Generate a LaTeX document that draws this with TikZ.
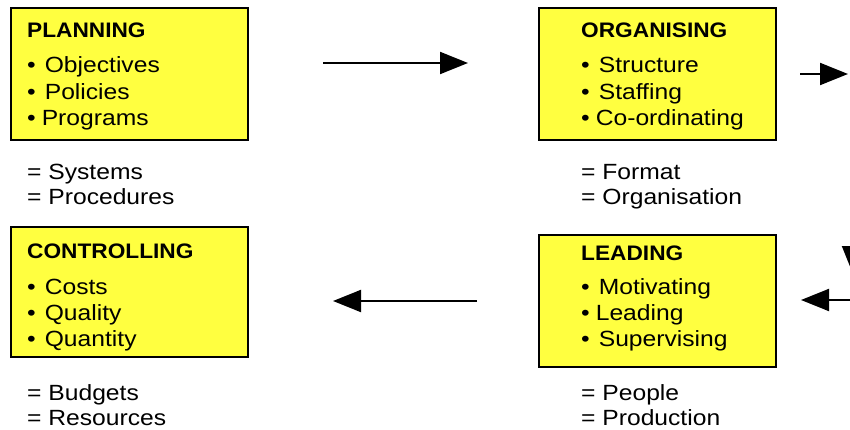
\documentclass[tikz,border=0pt]{standalone}
\usepackage{fontspec}
\setmainfont{Liberation Sans}[FakeStretch=1.12]
\newfontfamily\titlefont{Liberation Sans}[FakeStretch=1.08]
\usetikzlibrary{arrows.meta}
\definecolor{boxyellow}{RGB}{255,255,64}
\newcommand{\blt}{•\hspace{9pt}}
\tikzset{
  stage/.style={draw=black, line width=1.6pt, fill=boxyellow, anchor=north west, inner sep=0pt},
  title/.style={anchor=base west, inner sep=0pt, font=\fontsize{21}{25}\titlefont\bfseries},
  item/.style={anchor=base west, inner sep=0pt, font=\fontsize{22}{26}\selectfont},
  flow/.style={line width=2pt, -{Triangle[length=28pt,width=22pt]}}
}
\begin{document}
\begin{tikzpicture}[x=1pt,y=-1pt]
\useasboundingbox (0,0) rectangle (850,430);
\clip (0,0) rectangle (850,430);

% the four stage boxes
\node[stage, minimum width=237pt, minimum height=132pt] (plan) at (10,7) {};
\node[stage, minimum width=237pt, minimum height=132pt] (org) at (538,7) {};
\node[stage, minimum width=237pt, minimum height=130pt] (ctrl) at (10,226) {};
\node[stage, minimum width=237pt, minimum height=132pt] (lead) at (538,234) {};

% planning
\node[title] (planT) at (27,38) {PLANNING};
\node[item] (plan1) at (27,73) {\blt Objectives};
\node[item] (plan2) at (27,99.5) {\blt Policies};
\node[item] (plan3) at (27,126) {•\hspace{6pt}Programs};
\node[item] (plan4) at (27,180) {= Systems};
\node[item] (plan5) at (27,205) {= Procedures};

% organising
\node[title] (orgT) at (581,38) {ORGANISING};
\node[item] (org1) at (581,73) {\blt Structure};
\node[item] (org2) at (581,99.5) {\blt Staffing};
\node[item] (org3) at (581,126) {•\hspace{6pt}Co-ordinating};
\node[item] (org4) at (581,180) {= Format};
\node[item] (org5) at (581,205) {= Organisation};

% controlling
\node[title] (ctrlT) at (27,258) {CONTROLLING};
\node[item] (ctrl1) at (27,294) {\blt Costs};
\node[item] (ctrl2) at (27,320) {\blt Quality};
\node[item] (ctrl3) at (27,346.5) {\blt Quantity};
\node[item] (ctrl4) at (27,400) {= Budgets};
\node[item] (ctrl5) at (27,425) {= Resources};

% leading
\node[title] (leadT) at (581,260) {LEADING};
\node[item] (lead1) at (581,294) {\blt Motivating};
\node[item] (lead2) at (581,320) {•\hspace{6pt}Leading};
\node[item] (lead3) at (581,346.5) {\blt Supervising};
\node[item] (lead4) at (581,400) {= People};
\node[item] (lead5) at (581,425) {= Production};

% arrow end points
\coordinate (pa) at (323,63);
\coordinate (pb) at (468,63);
\coordinate (oa) at (800,74);
\coordinate (ob) at (848,74);
\coordinate (da) at (853,150);
\coordinate (db) at (853,274);
\coordinate (la) at (870,300);
\coordinate (lb) at (801,300);
\coordinate (ca) at (477,301);
\coordinate (cb) at (333,301);

\draw[flow] (pa) -- (pb);
\draw[flow] (oa) -- (ob);
\draw[flow] (da) -- (db);
\draw[flow] (la) -- (lb);
\draw[flow] (ca) -- (cb);
\end{tikzpicture}
\end{document}
